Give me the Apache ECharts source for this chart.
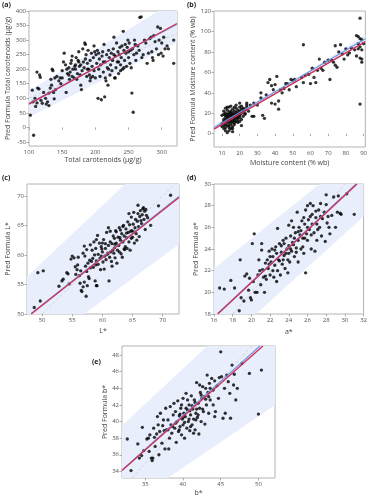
<!DOCTYPE html>
<html><head><meta charset="utf-8">
<script src="https://cdn.jsdelivr.net/npm/echarts@6/dist/echarts.min.js"></script>
<style>html,body{margin:0;padding:0;background:#fff}#c{width:370px;height:500px}</style>
</head><body><div id="c"></div>
<script>
// ---------- Panel (a): Total carotenoids ----------
const aPoints = [[102,42],[107,-27],[105,128],[106,88],[109,100],[110,72],[112,190],[113,135],[115,132],[116,180],[117,172],[118,93],[120,83],[112,84],[122,120],[125,100],[126,80],[128,88],[130,75],[132,135],[133,165],[135,200],[136,195],[137,120],[138,98],[139,170],[134,145],[130,118],[140,130],[142,175],[145,160],[147,170],[148,150],[150,195],[152,225],[153,255],[155,215],[156,120],[157,200],[158,185],[160,205],[161,165],[162,190],[163,220],[164,230],[165,175],[166,200],[168,170],[169,210],[170,215],[171,240],[172,165],[173,185],[174,230],[175,260],[176,210],[177,180],[178,145],[179,130],[180,195],[181,270],[182,225],[183,205],[184,290],[185,285],[186,250],[187,175],[188,220],[189,265],[190,200],[191,180],[192,230],[193,170],[194,255],[195,210],[196,175],[197,240],[198,280],[199,260],[200,170],[201,250],[202,220],[203,265],[204,100],[205,200],[206,235],[207,175],[208,215],[209,95],[210,245],[211,260],[212,190],[213,285],[214,105],[215,225],[216,160],[217,250],[218,205],[219,145],[220,265],[221,240],[222,180],[223,215],[224,255],[225,195],[226,230],[227,270],[228,310],[229,170],[230,245],[231,205],[232,290],[233,225],[234,260],[235,185],[236,250],[237,275],[238,215],[239,240],[240,280],[241,200],[242,330],[243,265],[244,230],[245,285],[246,255],[247,210],[248,275],[249,300],[250,240],[251,290],[252,220],[253,265],[254,205],[255,118],[256,270],[257,52],[258,250],[259,300],[260,285],[261,230],[262,255],[264,280],[266,265],[267,378],[269,380],[270,240],[272,250],[274,300],[276,290],[278,220],[280,255],[282,305],[284,310],[285,260],[286,240],[287,230],[288,315],[290,295],[292,270],[294,345],[295,250],[296,300],[298,340],[299,255],[300,290],[302,245],[303,310],[305,270],[308,280],[310,270],[318,300],[318,220],[165,245],[170,200],[178,215],[185,235],[192,160],[198,195],[205,255],[212,225],[220,200],[228,250],[235,225],[243,205],[250,260],[215,170],[230,170],[238,195],[188,200],[175,225],[160,180],[150,170]];
const aXTicks = [100,150,200,250,300];
const aYTicks = [-50,0,50,100,150,200,250,300,350,400];
const aXRange = [100,323];
const aYRange = [-64,400];
const aRedFit = [[100,80],[323,357]];
const aBlueFit = [[100,83],[323,354]];
const aDiag = [[100,100],[323,323]];
const aBand = [[100,35],[100,125],[295,400],[323,400],[323,292]];

// ---------- Panel (b): Moisture content ----------
const bPoints = [[10,10],[10,18],[11,14],[11,22],[11,5],[11,12],[12,3],[12,16],[12,20],[12,25],[12,9],[13,8],[13,13],[13,19],[13,23],[13,1],[13,15],[14,6],[14,11],[14,17],[14,21],[14,26],[14,3],[15,9],[15,14],[15,18],[15,22],[15,12],[15,5],[16,7],[16,16],[16,20],[16,24],[16,11],[16,2],[17,13],[17,19],[17,22],[17,15],[17,9],[18,17],[18,21],[18,12],[18,25],[18,28],[19,14],[19,18],[19,23],[19,20],[20,16],[20,22],[20,26],[20,30],[20,19],[21,20],[21,24],[22,17],[22,22],[23,24],[24,26],[11,19],[12,13],[13,17],[14,14],[15,20],[16,13],[17,17],[18,19],[19,11],[10,7],[12,6],[14,8],[16,5],[13,26],[15,27],[17,26],[12,18],[14,19],[16,18],[18,15],[20,12],[11,8],[13,11],[15,16],[17,11],[19,16],[21,14],[21,27],[23,19],
[56,87],[88,113],[88,29],[36,50],[37,53],[38,47],[40,48],[41,56],[33,18],[34,15],[32,35],[32,40],[28,30],[30,28],[27,17],[42,24],[42,32],[43,43],[44,40],[45,44],[46,49],[47,49],[48,43],[49,53],[50,52],[51,53],[52,46],[55,55],[56,50],[57,57],[59,58],[60,49],[61,64],[63,50],[62,55],[64,62],[65,73],[66,64],[67,62],[68,70],[70,72],[71,53],[72,72],[73,70],[74,86],[74,67],[75,65],[76,80],[77,87],[78,78],[79,73],[80,83],[81,77],[82,79],[83,84],[85,82],[86,96],[87,95],[87,88],[88,93],[88,85],[89,82],[89,73],[89,70],[88,74],[87,83],[86,76],[89,92],[90,88],[25,22],[22,25],[24,30],[26,28],[20,18],[21,8],[23,20],[24,28],[28,17],[35,38],[38,30],[39,43],[40,29]];
const bXTicks = [10,20,30,40,50,60,70,80,90];
const bYTicks = [0,20,40,60,80,100,120];
const bXRange = [5.5,91];
const bYRange = [-13,120];
const bRedFit = [[5.5,4.5],[91,90]];
const bBlueFit = [[5.5,6],[91,92.8]];
const bDiag = [[5.5,5.5],[91,91]];
const bBand = [[5.5,4],[50,49],[91,89],[91,97],[50,51.5],[5.5,8]];

// ---------- Panel (c): L* ----------
const cPoints = [[48.7,51.1],[49.7,52.2],[49.3,57.0],[50.2,57.3],[52.8,54.7],[53.3,55.6],[53.5,55.9],[54.1,57.0],[54.5,55.1],[55.0,59.8],[55.3,59.5],[55.6,56.7],[55.9,58.3],[56.2,56.5],[56.3,55.2],[56.5,54.0],[56.6,53.8],[56.8,54.6],[57.0,55.4],[57.3,53.0],[57.2,58.1],[57.5,54.8],[57.8,56.0],[57.6,58.6],[57.7,56.3],[58.0,57.8],[58.2,58.9],[58.3,60.8],[58.5,57.9],[58.8,55.6],[59.0,54.8],[59.1,54.8],[59.3,58.4],[58.9,61.1],[59.0,62.6],[59.3,60.1],[59.5,62.0],[59.6,59.4],[59.8,61.4],[60.0,60.5],[60.1,58.8],[60.2,62.6],[60.4,59.8],[60.5,61.1],[60.6,59.2],[60.8,60.1],[61.0,61.6],[61.1,55.6],[61.2,59.6],[61.3,62.2],[61.4,60.5],[61.5,58.9],[61.6,61.9],[61.8,63.2],[61.9,60.3],[62.0,61.2],[62.1,59.5],[62.2,64.1],[62.3,62.0],[62.5,60.8],[62.6,63.0],[62.7,61.6],[62.8,64.6],[63.0,62.5],[63.1,60.2],[63.2,63.6],[63.4,62.2],[63.5,65.0],[63.6,63.2],[63.8,61.4],[63.9,64.4],[64.0,62.9],[64.2,65.6],[64.3,63.8],[64.4,62.2],[64.5,65.1],[64.7,64.0],[64.8,66.4],[65.0,63.0],[65.1,65.2],[65.2,67.2],[65.4,64.6],[65.5,66.0],[65.6,63.6],[65.8,65.7],[65.9,67.0],[66.0,64.8],[66.2,66.5],[66.3,67.5],[66.5,65.3],[66.6,66.8],[66.7,67.8],[66.9,66.0],[67.0,67.4],[67.1,64.3],[67.3,66.7],[67.5,66.3],[68.0,65.0],[69.3,68.3],[71.3,70.1],[55.5,58.0],[56.0,59.6],[56.8,60.3],[57.0,61.5],[57.4,60.9],[58.0,61.7],[58.4,59.4],[58.6,62.2],[59.0,59.0],[59.7,57.5],[60.3,57.6],[60.7,63.8],[61.6,58.1],[62.4,58.6],[62.9,62.9],[63.3,59.6],[63.7,60.9],[64.1,61.1],[64.6,60.8],[65.3,62.0],[65.7,62.5],[66.1,63.1],[62.0,62.8],[61.0,64.6],[60.0,62.0],[59.2,63.3],[58.7,60.0],[57.9,59.1],[57.1,59.8],[56.4,57.3],[55.8,57.5],[54.8,59.3],[54.3,56.8],[64.9,64.1],[63.0,64.2],[62.3,63.9],[61.3,64.0],[60.5,61.9],[59.9,61.0],[61.7,60.8],[62.8,60.5],[63.6,61.0],[64.0,63.7],[65.2,63.9],[66.4,65.8],[67.2,67.7],[66.8,68.0],[65.9,68.4],[64.4,67.0],[63.4,64.8],[64.8,62.8],[62.1,61.8],[60.9,60.3],[59.8,59.8],[58.9,58.3],[57.4,57.2]];
const cXTicks = [50,55,60,65,70];
const cYTicks = [50,55,60,65,70];
const cXRange = [47.5,72.7];
const cYRange = [50,72];
const cRedFit = [[48.2,50],[72.7,69.7]];
const cBlueFit = [[48.2,50.1],[72.7,69.9]];
const cDiag = [[50,50],[72,72]];
const cBand = [[47.5,50],[47.5,56.3],[63.8,72],[72.7,72],[72.7,61.8],[57.0,50]];

// ---------- Panel (d): a* ----------
const dPoints = [[16.6,20.4],[17.1,20.3],[17.8,21.1],[18.2,20.4],[18.8,23.0],[18.7,18.3],[18.9,19.5],[19.2,19.2],[19.3,21.5],[19.5,21.7],[19.7,20.2],[19.8,21.3],[19.9,19.5],[20.0,19.3],[20.1,24.5],[20.2,21.0],[20.3,25.4],[20.4,20.0],[20.6,20.0],[20.7,21.6],[20.9,22.0],[21.0,20.7],[21.1,24.5],[21.1,23.9],[21.2,22.1],[21.3,21.4],[21.4,20.0],[21.5,22.7],[21.6,21.2],[21.7,23.0],[21.8,22.2],[21.9,23.8],[22.0,21.6],[22.1,22.8],[22.2,24.0],[22.3,23.3],[22.4,21.4],[22.5,22.5],[22.6,24.2],[22.7,23.6],[22.8,25.9],[22.8,22.0],[22.9,23.0],[23.0,24.5],[23.1,21.6],[23.2,23.7],[23.3,22.6],[23.4,24.8],[23.5,23.4],[23.6,22.2],[23.7,25.0],[23.8,24.0],[23.9,23.0],[24.0,26.2],[24.0,24.3],[24.1,22.8],[24.2,25.2],[24.3,23.8],[24.4,24.6],[24.5,26.0],[24.6,23.3],[24.7,25.5],[24.8,24.1],[24.9,27.4],[25.0,22.8],[25.0,24.8],[25.1,26.0],[25.2,25.3],[25.3,24.0],[25.4,26.6],[25.5,25.0],[25.6,23.6],[25.7,26.3],[25.8,27.6],[25.8,21.8],[25.9,25.4],[26.0,28.0],[26.0,24.8],[26.1,26.7],[26.2,25.8],[26.3,27.0],[26.4,24.0],[26.5,26.3],[26.6,28.0],[26.7,25.5],[26.8,23.8],[26.9,26.9],[27.0,24.8],[27.1,25.8],[27.2,27.6],[27.3,26.0],[27.4,28.2],[27.5,25.2],[27.6,26.8],[27.8,27.4],[27.9,24.7],[28.0,29.0],[28.0,28.1],[28.1,26.4],[28.2,27.0],[28.3,26.0],[28.4,25.4],[28.6,27.1],[28.8,28.8],[29.0,26.0],[29.2,27.4],[29.3,28.9],[29.5,27.3],[29.6,27.2],[30.2,29.1],[31.0,27.2],[22.0,23.3],[22.5,23.9],[23.0,22.9],[23.5,24.5],[24.0,23.6],[24.5,24.4],[25.0,25.6],[25.5,24.2],[26.0,26.0],[26.5,27.2],[27.0,26.3],[24.2,24.0],[23.7,23.6],[23.2,24.3],[24.6,25.0],[25.3,25.7],[25.7,25.0],[26.4,25.3],[26.9,27.5],[27.4,27.0],[21.9,22.6],[22.3,22.0],[23.4,23.0],[24.8,23.7],[24.3,26.6],[25.6,26.9],[26.3,28.2],[20.8,23.0],[21.5,21.5],[22.7,21.0],[23.9,21.8]];
const dXTicks = [16,18,20,22,24,26,28,30,32];
const dYTicks = [18,20,22,24,26,28,30];
const dXRange = [16,32];
const dYRange = [18,30];
const dRedFit = [[16.4,18],[31.3,30]];
const dBlueFit = [[16.4,18.05],[31.2,30]];
const dDiag = [[18,18],[30,30]];
const dBand = [[16,18],[16,22.2],[27.3,30],[32,30],[32,27.0],[20.5,18]];

// ---------- Panel (e): b* ----------
const ePoints = [[32.6,37.9],[33.1,34.1],[34.0,37.3],[34.2,35.6],[34.5,35.9],[34.8,36.5],[34.6,39.3],[35.2,37.9],[35.5,36.4],[35.6,38.4],[35.8,35.6],[35.9,35.3],[36.0,35.6],[36.1,39.2],[36.2,38.1],[36.3,37.0],[36.5,38.5],[36.6,40.6],[36.8,36.0],[36.9,38.8],[37.0,41.0],[37.2,37.4],[37.3,39.5],[37.5,38.9],[37.6,36.7],[37.7,41.6],[37.8,39.0],[38.0,40.2],[38.1,36.7],[38.2,38.0],[38.3,41.8],[38.4,39.6],[38.5,38.6],[38.7,40.8],[38.8,42.2],[38.9,39.2],[39.0,41.2],[39.1,37.5],[39.2,40.0],[39.3,42.5],[39.4,38.8],[39.5,40.7],[39.6,39.4],[39.7,41.6],[39.8,38.4],[39.9,40.3],[40.0,42.8],[40.0,39.6],[40.1,41.0],[40.2,38.0],[40.3,40.6],[40.4,43.4],[40.5,39.2],[40.6,41.4],[40.7,40.0],[40.8,42.0],[40.9,38.9],[41.0,40.8],[41.1,43.1],[41.2,39.6],[41.3,41.5],[41.4,40.3],[41.5,42.6],[41.6,39.0],[41.7,41.0],[41.8,44.7],[41.9,40.5],[42.0,42.2],[42.1,38.5],[42.2,41.6],[42.3,43.5],[42.4,40.0],[42.5,42.8],[42.6,44.2],[42.7,41.2],[42.8,43.0],[42.9,39.7],[43.0,44.0],[43.1,42.0],[43.2,45.6],[43.3,43.5],[43.4,41.0],[43.5,44.6],[43.6,42.6],[43.8,45.2],[44.0,43.8],[44.2,40.6],[44.3,41.2],[44.5,44.3],[44.7,42.8],[44.8,45.3],[45.0,48.4],[45.1,45.4],[45.3,40.4],[45.5,44.0],[45.6,41.0],[45.8,45.6],[46.0,44.8],[46.3,40.4],[46.5,46.8],[46.7,44.4],[47.0,42.6],[47.2,44.0],[47.8,47.0],[48.8,45.8],[50.0,40.9],[50.4,46.2],[46.8,45.7],[46.2,43.4],[39.0,39.8],[39.5,39.0],[40.0,40.5],[40.4,41.6],[40.8,40.3],[41.2,41.9],[41.6,42.3],[42.0,40.8],[42.4,43.2],[38.6,39.4],[39.8,42.0],[40.6,42.6],[41.4,38.6],[40.2,39.9],[41.8,41.5],[43.0,42.7],[43.6,44.0],[44.2,44.9],[42.2,44.4],[41.0,39.4],[38.0,39.0],[37.4,40.2],[36.7,39.6],[35.4,38.0],[39.6,40.9],[40.9,41.3],[41.7,40.2],[42.6,41.5],[43.4,43.0],[44.0,42.0]];
const eXTicks = [35,40,45,50];
const eYTicks = [34,36,38,40,42,44,46,48];
const eXRange = [31.9,52.2];
const eYRange = [33.2,49.1];
const eRedFit = [[31.9,34.1],[50.6,49.1]];
const eBlueFit = [[31.9,34.15],[50.2,49.1]];
const eDiag = [[33.2,33.2],[49.1,49.1]];
const eBand = [[31.9,33.2],[31.9,39.5],[43.2,49.1],[52.2,49.1],[52.2,42.0],[38.0,33.2]];

const panels = [
  {tag:'(a)', pts:aPoints, xt:aXTicks, yt:aYTicks, xr:aXRange, yr:aYRange, red:aRedFit, blue:aBlueFit, diag:aDiag, band:aBand,
   xName:'Total carotenoids (µg/g)', yName:'Pred Formula Total carotenoids (µg/g)',
   box:{left:29,top:11,width:148,height:135}, xGap:10.5, yGap:17, tagPos:[2,1]},
  {tag:'(b)', pts:bPoints, xt:bXTicks, yt:bYTicks, xr:bXRange, yr:bYRange, red:bRedFit, blue:bBlueFit, diag:bDiag, band:bBand,
   xName:'Moisture content (% wb)', yName:'Pred Formula Moisture content (% wb)',
   box:{left:214,top:11,width:152,height:136}, xGap:12, yGap:15, tagPos:[187,1]},
  {tag:'(c)', pts:cPoints, xt:cXTicks, yt:cYTicks, xr:cXRange, yr:cYRange, red:cRedFit, blue:cBlueFit, diag:cDiag, band:cBand,
   xName:'L*', yName:'Pred Formula L*',
   box:{left:27,top:184,width:152,height:130}, xGap:13, yGap:15.5, tagPos:[2,174]},
  {tag:'(d)', pts:dPoints, xt:dXTicks, yt:dYTicks, xr:dXRange, yr:dYRange, red:dRedFit, blue:dBlueFit, diag:dDiag, band:dBand,
   xName:'a*', yName:'Pred Formula a*',
   box:{left:214,top:184,width:151,height:130}, xGap:14, yGap:14.5, tagPos:[187,174]},
  {tag:'(e)', pts:ePoints, xt:eXTicks, yt:eYTicks, xr:eXRange, yr:eYRange, red:eRedFit, blue:eBlueFit, diag:eDiag, band:eBand,
   xName:'b*', yName:'Pred Formula b*',
   box:{left:122,top:346,width:153,height:132}, xGap:11.5, yGap:14, tagPos:[92,358]}
];

const FONT = "'Open Sans', 'Noto Sans', sans-serif";
const grid = [], xAxis = [], yAxis = [], series = [], graphic = [];
panels.forEach((p, i) => {
  grid.push(Object.assign({show:true, borderColor:'#b4b4b4', borderWidth:1, backgroundColor:'transparent'}, p.box));
  const axisCommon = {
    gridIndex:i, type:'value', nameLocation:'middle', splitLine:{show:false},
    axisLine:{show:false},
    nameTextStyle:{fontFamily:FONT, fontSize:7, color:'#444'}
  };
  xAxis.push(Object.assign({}, axisCommon, {
    min:p.xr[0], max:p.xr[1], name:p.xName, nameGap:p.xGap,
    axisTick:{show:true, customValues:p.xt, length:2.5, lineStyle:{color:'#999', width:0.8}},
    axisLabel:{customValues:p.xt, fontFamily:FONT, fontSize:6, color:'#555', margin:3}
  }));
  yAxis.push(Object.assign({}, axisCommon, {
    min:p.yr[0], max:p.yr[1], name:p.yName, nameGap:p.yGap,
    axisTick:{show:true, customValues:p.yt, length:2.5, lineStyle:{color:'#999', width:0.8}},
    axisLabel:{customValues:p.yt, fontFamily:FONT, fontSize:6, color:'#555', margin:3}
  }));
  const band = p.band;
  series.push({
    type:'custom', xAxisIndex:i, yAxisIndex:i, clip:true, silent:true, z:1,
    data:[band[0]],
    renderItem:(params, api) => ({type:'polygon', shape:{points: band.map(v => api.coord(v))}, style:{fill:'#e9eefc'}})
  });
  series.push({type:'line', xAxisIndex:i, yAxisIndex:i, data:p.diag, showSymbol:false, silent:true, z:2,
    lineStyle:{color:'#c4c8d0', width:0.7, type:[3,2]}});
  series.push({type:'scatter', xAxisIndex:i, yAxisIndex:i, data:p.pts, symbolSize:3.3, silent:true, z:3,
    itemStyle:{color:'#000'}});
  series.push({type:'line', xAxisIndex:i, yAxisIndex:i, data:p.blue, showSymbol:false, silent:true, z:4,
    lineStyle:{color:'#7394e4', width:1.1}});
  series.push({type:'line', xAxisIndex:i, yAxisIndex:i, data:p.red, showSymbol:false, silent:true, z:5,
    lineStyle:{color:'#cc2f52', width:1.3}});
  graphic.push({type:'text', left:p.tagPos[0], top:p.tagPos[1],
    style:{text:p.tag, fontFamily:FONT, fontSize:7, fontWeight:'bold', fill:'#222'}});
});

const chart = echarts.init(document.getElementById('c'), null, {renderer:'canvas'});
chart.setOption({animation:false, backgroundColor:'#fff', grid, xAxis, yAxis, series, graphic});
</script>
</body></html>
